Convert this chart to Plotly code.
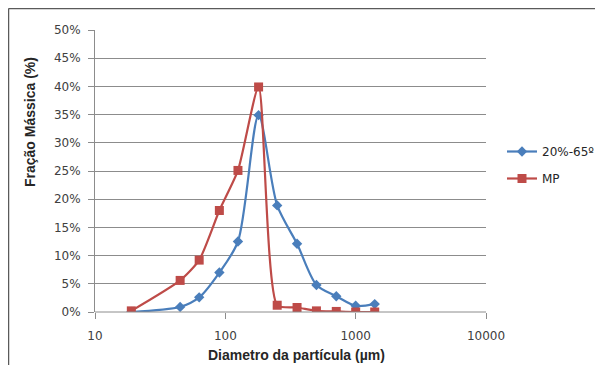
import plotly.graph_objects as go

diameters = [19, 45, 63, 90, 125, 180, 250, 355, 500, 710, 1000, 1400]
serie_65 = [0.000, 0.009, 0.026, 0.070, 0.125, 0.349, 0.189, 0.121, 0.048, 0.028, 0.011, 0.014]
serie_mp = [0.002, 0.056, 0.092, 0.180, 0.251, 0.399, 0.012, 0.008, 0.002, 0.001, 0.000, 0.000]
y_ticks = [0, 0.05, 0.10, 0.15, 0.20, 0.25, 0.30, 0.35, 0.40, 0.45, 0.50]
y_tick_text = ["0%", "5%", "10%", "15%", "20%", "25%", "30%", "35%", "40%", "45%", "50%"]
x_ticks = [10, 100, 1000, 10000]

FONT = "DejaVu Sans, sans-serif"
TITLE_FONT = "Liberation Sans, Arial, sans-serif"
BLUE = "#4A7EBB"
RED = "#BE4B48"
GRID = "#8C8C8C"

fig = go.Figure()
fig.add_trace(go.Scatter(
    x=diameters, y=serie_65, name="20%-65º", mode="lines+markers",
    line=dict(color=BLUE, width=2.2, shape="spline", smoothing=0.8),
    marker=dict(symbol="diamond", size=8, color=BLUE),
    legendgroup="a",
))
fig.add_trace(go.Scatter(
    x=diameters, y=serie_mp, name="MP", mode="lines+markers",
    line=dict(color=RED, width=2.2, shape="spline", smoothing=0.6),
    marker=dict(symbol="square", size=9, color=RED),
    legendgroup="b",
))

# page body has an 8px margin; figure coords = screen coords - 8
OFF = 8
W, H = 595, 357
L, R, T, B = 87, 117, 22, 53
pw, ph = W - L - R, H - T - B

def px(xs):
    return (xs - OFF - L) / pw

def py(ys):
    return (H - B - (ys - OFF)) / ph

fig.update_layout(
    width=W, height=H,
    margin=dict(l=L, r=R, t=T, b=B, autoexpand=False),
    paper_bgcolor="white", plot_bgcolor="white",
    font=dict(family=FONT, size=12, color="#404040"),
    showlegend=True,
    legend=dict(xref="container", yref="container",
                x=(502 - OFF) / W, y=1 - (137 - OFF) / H,
                xanchor="left", yanchor="top",
                font=dict(family=FONT, size=12, color="#262626"),
                tracegroupgap=8, bgcolor="rgba(0,0,0,0)"),
    xaxis=dict(type="log", range=[1, 4], tickvals=x_ticks,
               ticktext=[str(v) for v in x_ticks],
               showgrid=False, zeroline=False, showline=False,
               ticks="outside", ticklen=6, tickcolor=GRID,
               ticklabelstandoff=7,
               tickfont=dict(family=FONT, size=12, color="#404040")),
    yaxis=dict(range=[0, 0.5], tickvals=y_ticks, ticktext=y_tick_text,
               showgrid=True, gridcolor=GRID, gridwidth=1,
               zeroline=False, showline=True, linecolor=GRID, linewidth=1,
               ticks="outside", ticklen=6, tickcolor=GRID,
               ticklabelstandoff=5,
               tickfont=dict(family=FONT, size=12, color="#404040")),
)

# chart border (top and left visible)
fig.add_shape(type="line", xref="paper", yref="paper",
              x0=px(8.5), x1=px(604), y0=py(8.5), y1=py(8.5),
              line=dict(color="#5A5A5A", width=1.5))
fig.add_shape(type="line", xref="paper", yref="paper",
              x0=px(8.5), x1=px(8.5), y0=py(8.5), y1=py(366),
              line=dict(color="#5A5A5A", width=1.5))
# bottom axis line
fig.add_shape(type="line", xref="paper", yref="paper",
              x0=0, x1=1, y0=0, y1=0, line=dict(color=GRID, width=1))

fig.add_annotation(text="<b>Fração Mássica (%)</b>", xref="paper", yref="paper",
                   x=px(30), y=py(122), xanchor="center", yanchor="middle",
                   textangle=-90, showarrow=False,
                   font=dict(family=TITLE_FONT, size=14, color="#262626"))
fig.add_annotation(text="<b>Diametro da partícula (µm)</b>", xref="paper", yref="paper",
                   x=px(296), y=py(355), xanchor="center", yanchor="middle",
                   showarrow=False,
                   font=dict(family=TITLE_FONT, size=14, color="#262626"))

fig.write_html("out.html")
